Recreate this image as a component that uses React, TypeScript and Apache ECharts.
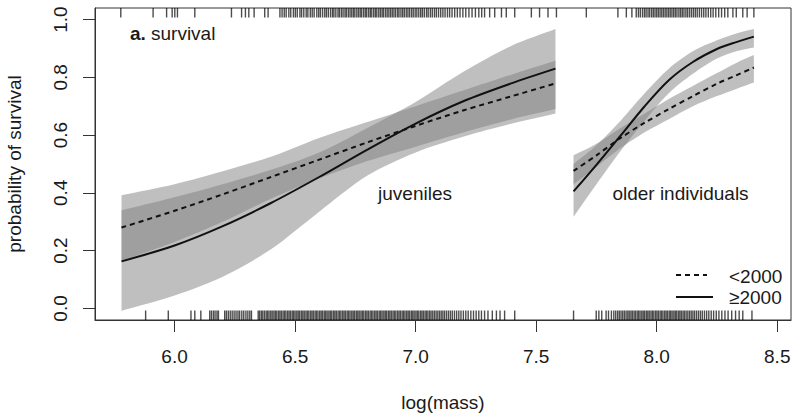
import React, { useEffect, useRef } from "react";
import * as echarts from "echarts";

// ---------- data ----------
const xTicks = [6.0, 6.5, 7.0, 7.5, 8.0, 8.5];
const yTicks = [0.0, 0.2, 0.4, 0.6, 0.8, 1.0];

// juveniles
const juvX = [5.78, 6.0, 6.2, 6.4, 6.6, 6.8, 7.0, 7.2, 7.4, 7.58];
const juvPre = [0.28, 0.338, 0.395, 0.455, 0.515, 0.575, 0.632, 0.686, 0.735, 0.779];
const juvPreLo = [0.165, 0.23, 0.3, 0.38, 0.45, 0.51, 0.56, 0.61, 0.655, 0.69];
const juvPreHi = [0.392, 0.43, 0.475, 0.525, 0.59, 0.645, 0.7, 0.755, 0.81, 0.857];
const juvPost = [0.163, 0.218, 0.285, 0.365, 0.455, 0.55, 0.64, 0.718, 0.78, 0.83];
const juvPostLo = [-0.008, 0.045, 0.11, 0.205, 0.335, 0.46, 0.54, 0.595, 0.64, 0.675];
const juvPostHi = [0.34, 0.385, 0.43, 0.48, 0.54, 0.625, 0.715, 0.82, 0.91, 0.967];

// older individuals
const oldX = [7.655, 7.75, 7.85, 7.95, 8.05, 8.15, 8.25, 8.33, 8.403];
const oldPre = [0.476, 0.53, 0.59, 0.643, 0.69, 0.735, 0.778, 0.807, 0.834];
const oldPreLo = [0.43, 0.49, 0.555, 0.61, 0.655, 0.7, 0.735, 0.76, 0.782];
const oldPreHi = [0.53, 0.57, 0.625, 0.675, 0.725, 0.77, 0.815, 0.85, 0.877];
const oldPost = [0.405, 0.497, 0.598, 0.7, 0.79, 0.853, 0.898, 0.922, 0.941];
const oldPostLo = [0.317, 0.43, 0.545, 0.65, 0.745, 0.812, 0.865, 0.89, 0.903];
const oldPostHi = [0.5, 0.565, 0.65, 0.745, 0.83, 0.89, 0.928, 0.952, 0.967];

// rug marks (top and bottom of the plot)
const rugTop = [
  5.777, 5.911, 5.967, 5.99, 6.001, 6.012, 6.084, 6.236, 6.278, 6.294, 6.308, 6.33, 6.374, 6.388,
  6.437, 6.446, 6.455, 6.463, 6.474, 6.482, 6.493, 6.501, 6.509, 6.52, 6.527, 6.536, 6.546, 6.553,
  6.563, 6.571, 6.579, 6.59, 6.598, 6.605, 6.614, 6.623, 6.63, 6.638, 6.647, 6.655, 6.661, 6.669,
  6.678, 6.684, 6.692, 6.699, 6.707, 6.713, 6.721, 6.728, 6.735, 6.742, 6.748, 6.756, 6.763, 6.77,
  6.776, 6.784, 6.791, 6.797, 6.805, 6.812, 6.818, 6.826, 6.833, 6.839, 6.847, 6.854, 6.861, 6.867,
  6.875, 6.882, 6.889, 6.896, 6.903, 6.91, 6.917, 6.925, 6.931, 6.939, 6.946, 6.953, 6.961, 6.968,
  6.975, 6.983, 6.99, 6.998, 7.005, 7.013, 7.021, 7.028, 7.036, 7.045, 7.052, 7.061, 7.069, 7.078,
  7.086, 7.095, 7.104, 7.113, 7.122, 7.132, 7.141, 7.151, 7.162, 7.173, 7.184, 7.196, 7.208, 7.221,
  7.234, 7.248, 7.262, 7.274, 7.286, 7.307, 7.328, 7.356, 7.376, 7.411, 7.48, 7.514, 7.549, 7.584,
  7.708, 7.839, 7.874, 7.897, 7.915, 7.924, 7.932, 7.941, 7.949, 7.956, 7.964, 7.971, 7.979, 7.986,
  7.993, 8.0, 8.007, 8.014, 8.021, 8.028, 8.035, 8.042, 8.049, 8.056, 8.063, 8.07, 8.077, 8.084,
  8.092, 8.099, 8.106, 8.113, 8.121, 8.128, 8.136, 8.144, 8.152, 8.16, 8.168, 8.177, 8.186, 8.195,
  8.204, 8.214, 8.224, 8.234, 8.245, 8.257, 8.269, 8.282, 8.295, 8.316, 8.33, 8.357, 8.375, 8.403,
];
const rugBottom = [
  5.88, 5.974, 6.068, 6.084, 6.109, 6.146, 6.153, 6.161, 6.168, 6.176, 6.182, 6.208, 6.215, 6.223,
  6.231, 6.239, 6.247, 6.255, 6.263, 6.27, 6.279, 6.287, 6.296, 6.304, 6.312, 6.319, 6.347, 6.353,
  6.36, 6.366, 6.373, 6.38, 6.386, 6.392, 6.399, 6.405, 6.412, 6.418, 6.424, 6.431, 6.437, 6.443,
  6.45, 6.456, 6.462, 6.469, 6.475, 6.481, 6.488, 6.494, 6.5, 6.507, 6.513, 6.519, 6.526, 6.532,
  6.538, 6.545, 6.551, 6.557, 6.564, 6.57, 6.576, 6.583, 6.589, 6.595, 6.602, 6.608, 6.614, 6.621,
  6.627, 6.633, 6.64, 6.646, 6.652, 6.659, 6.665, 6.671, 6.678, 6.684, 6.69, 6.697, 6.703, 6.709,
  6.716, 6.722, 6.728, 6.735, 6.741, 6.747, 6.754, 6.76, 6.766, 6.773, 6.779, 6.785, 6.792, 6.798,
  6.804, 6.811, 6.817, 6.823, 6.83, 6.836, 6.842, 6.849, 6.855, 6.861, 6.868, 6.874, 6.88, 6.887,
  6.893, 6.899, 6.906, 6.912, 6.918, 6.925, 6.931, 6.937, 6.944, 6.95, 6.956, 6.963, 6.969, 6.975,
  6.982, 6.988, 6.994, 7.001, 7.007, 7.013, 7.02, 7.026, 7.032, 7.039, 7.045, 7.051, 7.058, 7.064,
  7.071, 7.078, 7.085, 7.092, 7.099, 7.106, 7.113, 7.12, 7.128, 7.136, 7.144, 7.152, 7.161, 7.17,
  7.179, 7.188, 7.198, 7.208, 7.218, 7.229, 7.24, 7.251, 7.262, 7.273, 7.286, 7.3, 7.318, 7.335,
  7.35, 7.369, 7.411, 7.655, 7.749, 7.76, 7.772, 7.79, 7.8, 7.812, 7.822, 7.83, 7.838, 7.845, 7.852,
  7.859, 7.866, 7.873, 7.88, 7.886, 7.893, 7.899, 7.906, 7.912, 7.919, 7.925, 7.931, 7.938, 7.944,
  7.95, 7.957, 7.963, 7.969, 7.976, 7.982, 7.988, 7.995, 8.001, 8.007, 8.014, 8.02, 8.026, 8.033,
  8.039, 8.045, 8.052, 8.058, 8.064, 8.071, 8.077, 8.083, 8.09, 8.096, 8.102, 8.109, 8.115, 8.122,
  8.129, 8.136, 8.143, 8.15, 8.157, 8.165, 8.173, 8.181, 8.189, 8.198, 8.207, 8.216, 8.226, 8.236,
  8.247, 8.258, 8.27, 8.283, 8.296, 8.311, 8.327, 8.342, 8.357, 8.395,
];

const FONT = "'Liberation Sans', Arial, Helvetica, sans-serif";
const TXT = "#1a1a1a";
const AX = "#333333";
const BAND_FILL = "rgba(127,127,127,0.5)";
const SMOOTH = 0.3;

const pairs = (xs: number[], ys: number[]) => xs.map((x, i) => [x, ys[i]]);

// confidence band: one smoothed polygon through the upper and lower limits
function band(xs: number[], lo: number[], hi: number[]) {
  return {
    type: "custom",
    data: xs.map((x, i) => [x, lo[i], hi[i]]),
    encode: { x: 0, y: [1, 2] },
    silent: true,
    z: 1,
    renderItem: (params: any, api: any) => {
      if (params.dataIndex !== 0) return null;
      const up = xs.map((x, i) => api.coord([x, hi[i]]));
      const dn = xs.map((x, i) => api.coord([x, lo[i]])).reverse();
      const pts = [up[0], ...up, up[up.length - 1], dn[0], ...dn, dn[dn.length - 1]];
      return {
        type: "polygon",
        shape: { points: pts, smooth: SMOOTH },
        style: { fill: BAND_FILL, stroke: null },
      };
    },
  };
}

function meanLine(xs: number[], ys: number[], dashed: boolean) {
  return {
    type: "line",
    data: pairs(xs, ys),
    symbol: "none",
    smooth: SMOOTH,
    lineStyle: { color: "#111111", width: 2, type: dashed ? [5, 4] : "solid" },
    silent: true,
    z: 4,
  };
}

function rug(values: number[], top: boolean) {
  return {
    type: "custom",
    data: values.map((v) => [v, 0.5]),
    encode: { x: 0, y: 1 },
    silent: true,
    z: 3,
    renderItem: (params: any, api: any) => {
      const x = api.coord([api.value(0), 0.5])[0];
      const cs = params.coordSys;
      const y0 = top ? cs.y : cs.y + cs.height;
      const y1 = top ? cs.y + 9.5 : cs.y + cs.height - 9.5;
      return {
        type: "line",
        shape: { x1: x, y1: y0, x2: x, y2: y1 },
        style: { stroke: "rgba(0,0,0,0.7)", lineWidth: 1.4 },
      };
    },
  };
}

export default function App() {
  const ref = useRef<HTMLDivElement>(null);
  useEffect(() => {
    if (!ref.current) return;
    const chart = echarts.init(ref.current, null, { renderer: "svg" });
    const labelFont = { fontSize: 19, fontFamily: FONT, color: TXT };
    chart.setOption({
      animation: false,
      backgroundColor: "#ffffff",
      grid: {
        left: 95,
        top: 8,
        width: 696,
        height: 312,
        show: true,
        borderColor: AX,
        borderWidth: 1,
        backgroundColor: "transparent",
        outerBoundsMode: "none",
      },
      xAxis: {
        type: "value",
        min: 5.67,
        max: 8.557,
        axisLine: { show: true, onZero: false, lineStyle: { color: AX, width: 1 } },
        axisTick: { show: true, length: 12, lineStyle: { color: AX }, customValues: xTicks },
        axisLabel: {
          ...labelFont,
          margin: 27,
          customValues: xTicks,
          formatter: (v: number) => v.toFixed(1),
        },
        splitLine: { show: false },
      },
      yAxis: {
        type: "value",
        min: -0.04,
        max: 1.04,
        axisLine: { show: true, onZero: false, lineStyle: { color: AX, width: 1 } },
        axisTick: { show: true, length: 12, lineStyle: { color: AX }, customValues: yTicks },
        axisLabel: {
          ...labelFont,
          margin: 25,
          rotate: 90,
          customValues: yTicks,
          formatter: (v: number) => v.toFixed(1),
        },
        splitLine: { show: false },
      },
      series: [
        band(juvX, juvPreLo, juvPreHi),
        band(juvX, juvPostLo, juvPostHi),
        band(oldX, oldPreLo, oldPreHi),
        band(oldX, oldPostLo, oldPostHi),
        rug(rugTop, true),
        rug(rugBottom, false),
        meanLine(juvX, juvPre, true),
        meanLine(juvX, juvPost, false),
        meanLine(oldX, oldPre, true),
        meanLine(oldX, oldPost, false),
      ],
      graphic: [
        {
          type: "text",
          x: 130,
          y: 33,
          style: { text: "a.", font: `bold 19px ${FONT}`, fill: TXT, align: "left", verticalAlign: "middle" },
        },
        {
          type: "text",
          x: 151,
          y: 33,
          style: { text: "survival", font: `19px ${FONT}`, fill: TXT, align: "left", verticalAlign: "middle" },
        },
        {
          type: "text",
          x: 415,
          y: 193,
          style: { text: "juveniles", font: `19px ${FONT}`, fill: TXT, align: "center", verticalAlign: "middle" },
        },
        {
          type: "text",
          x: 680.5,
          y: 193,
          style: { text: "older individuals", font: `19px ${FONT}`, fill: TXT, align: "center", verticalAlign: "middle" },
        },
        {
          type: "line",
          shape: { x1: 676, y1: 275, x2: 707, y2: 275 },
          style: { stroke: "#111111", lineWidth: 2, lineDash: [5, 4] },
        },
        {
          type: "line",
          shape: { x1: 676, y1: 297, x2: 713, y2: 297 },
          style: { stroke: "#111111", lineWidth: 2 },
        },
        {
          type: "text",
          x: 729,
          y: 276,
          style: { text: "<2000", font: `19px ${FONT}`, fill: TXT, align: "left", verticalAlign: "middle" },
        },
        {
          type: "text",
          x: 729,
          y: 297.5,
          style: { text: "\u22652000", font: `19px ${FONT}`, fill: TXT, align: "left", verticalAlign: "middle" },
        },
        {
          type: "text",
          x: 443,
          y: 402,
          style: { text: "log(mass)", font: `19px ${FONT}`, fill: TXT, align: "center", verticalAlign: "middle" },
        },
        {
          type: "text",
          x: 14,
          y: 164,
          rotation: Math.PI / 2,
          style: {
            text: "probability of survival",
            font: `19px ${FONT}`,
            fill: TXT,
            align: "center",
            verticalAlign: "middle",
          },
        },
      ],
    });
    return () => chart.dispose();
  }, []);
  return (
    <div
      ref={ref}
      style={{ position: "absolute", left: 0, top: 0, width: 800, height: 420 }}
    />
  );
}
